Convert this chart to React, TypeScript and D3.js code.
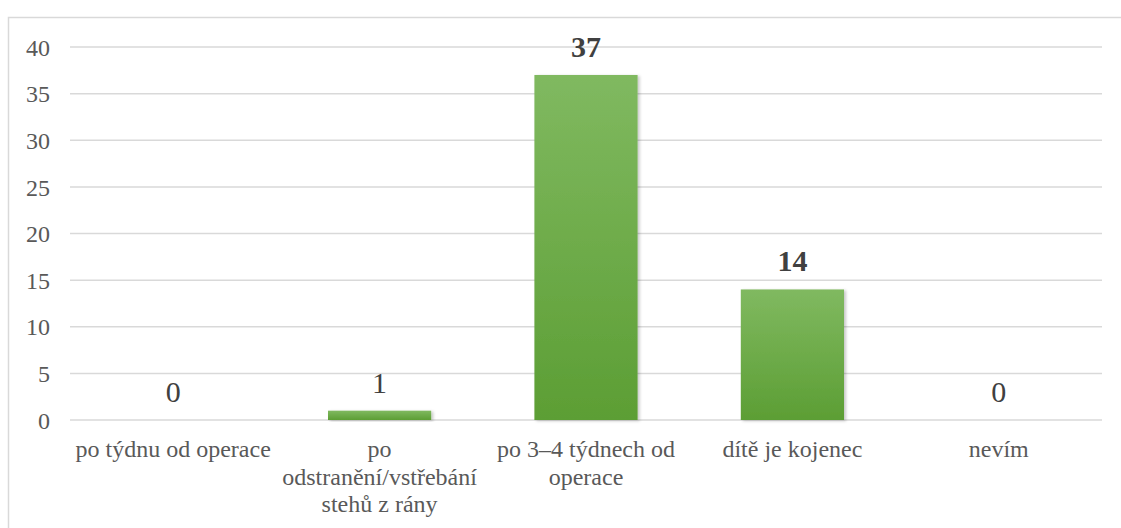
import React, { useRef, useEffect } from 'react';
import * as d3 from 'd3';

const categories = [
  'po týdnu od operace',
  'po odstranění/vstřebání stehů z rány',
  'po 3–4 týdnech od operace',
  'dítě je kojenec',
  'nevím',
];
const categoryLines = [
  ['po týdnu od operace'],
  ['po', 'odstranění/vstřebání', 'stehů z rány'],
  ['po 3–4 týdnech od', 'operace'],
  ['dítě je kojenec'],
  ['nevím'],
];
const values = [0, 1, 37, 14, 0];
const yTicks = [0, 5, 10, 15, 20, 25, 30, 35, 40];

const W = 1121;
const H = 528;
const FONT = "'Liberation Serif', 'Times New Roman', serif";

const App = () => {
  const svgRef = useRef<SVGSVGElement>(null);

  useEffect(() => {
    const svg = d3.select(svgRef.current);
    svg.selectAll('*').remove();

    const margin = { top: 47, right: 19, bottom: 108, left: 70 };
    const data = values.map((v, i) => ({ v, c: categories[i], lines: categoryLines[i] }));

    const defs = svg.append('defs');
    const grad = defs.append('linearGradient')
      .attr('id', 'bar-gradient')
      .attr('x1', '0%').attr('y1', '0%')
      .attr('x2', '0%').attr('y2', '100%');
    grad.append('stop').attr('offset', '0%').attr('stop-color', '#80b960');
    grad.append('stop').attr('offset', '100%').attr('stop-color', '#5c9e34');

    const shadow = defs.append('filter')
      .attr('id', 'bar-shadow')
      .attr('x', '-20%').attr('y', '-20%')
      .attr('width', '140%').attr('height', '140%');
    shadow.append('feDropShadow')
      .attr('dx', 2).attr('dy', 1)
      .attr('stdDeviation', 1.6)
      .attr('flood-color', '#000')
      .attr('flood-opacity', 0.22);

    // chart area border (cropped at right and bottom)
    svg.append('rect')
      .attr('x', 8.5).attr('y', 17.5)
      .attr('width', W + 20).attr('height', H + 20)
      .attr('fill', '#fff')
      .attr('stroke', '#d9d9d9')
      .attr('stroke-width', 1.5);

    const xScale = d3.scaleBand()
      .domain(categories)
      .range([margin.left, W - margin.right])
      .paddingInner(0.5)
      .paddingOuter(0.25);

    const yScale = d3.scaleLinear()
      .domain([0, 40])
      .range([H - margin.bottom, margin.top]);

    // gridlines
    svg.append('g')
      .selectAll('line')
      .data(yTicks)
      .enter()
      .append('line')
      .attr('x1', margin.left)
      .attr('x2', W - margin.right)
      .attr('y1', d => yScale(d))
      .attr('y2', d => yScale(d))
      .attr('stroke', '#d9d9d9')
      .attr('stroke-width', 1.5);

    // y axis labels
    const yAxis = d3.axisLeft(yScale)
      .tickValues(yTicks)
      .tickSize(0)
      .tickPadding(20);
    const yG = svg.append('g')
      .attr('transform', `translate(${margin.left},0)`)
      .call(yAxis)
      .attr('font-family', FONT)
      .attr('font-size', 24);
    yG.select('.domain').remove();
    yG.selectAll('text')
      .attr('dy', '0.34em')
      .attr('fill', '#595959');

    // bars
    svg.append('g')
      .selectAll('rect')
      .data(data.filter(d => d.v > 0))
      .enter()
      .append('rect')
      .attr('x', d => xScale(d.c)!)
      .attr('width', xScale.bandwidth())
      .attr('y', d => yScale(d.v))
      .attr('height', d => yScale(0) - yScale(d.v))
      .attr('fill', 'url(#bar-gradient)')
      .attr('filter', 'url(#bar-shadow)');

    // value labels
    svg.append('g')
      .selectAll('text')
      .data(data)
      .enter()
      .append('text')
      .attr('x', d => xScale(d.c)! + xScale.bandwidth() / 2)
      .attr('y', d => yScale(d.v) - 18)
      .attr('text-anchor', 'middle')
      .attr('font-family', FONT)
      .attr('font-size', 30)
      .attr('font-weight', d => (d.v >= 10 ? 'bold' : 'normal'))
      .attr('fill', '#404040')
      .text(d => d.v);

    // category labels
    const catG = svg.append('g')
      .selectAll('text')
      .data(data)
      .enter()
      .append('text')
      .attr('x', d => xScale(d.c)! + xScale.bandwidth() / 2)
      .attr('y', yScale(0) + 37)
      .attr('text-anchor', 'middle')
      .attr('font-family', FONT)
      .attr('font-size', 24)
      .attr('fill', '#595959');
    catG.each(function (d) {
      const t = d3.select(this);
      d.lines.forEach((line, j) => {
        t.append('tspan')
          .attr('x', xScale(d.c)! + xScale.bandwidth() / 2)
          .attr('dy', j === 0 ? 0 : 27.5)
          .text(line);
      });
    });
  }, []);

  return (
    <div style={{ position: 'fixed', left: 0, top: 0, width: W, height: H, background: '#fff' }}>
      <svg ref={svgRef} width={W} height={H} style={{ display: 'block', fontFamily: FONT }}></svg>
    </div>
  );
};

export default App;
